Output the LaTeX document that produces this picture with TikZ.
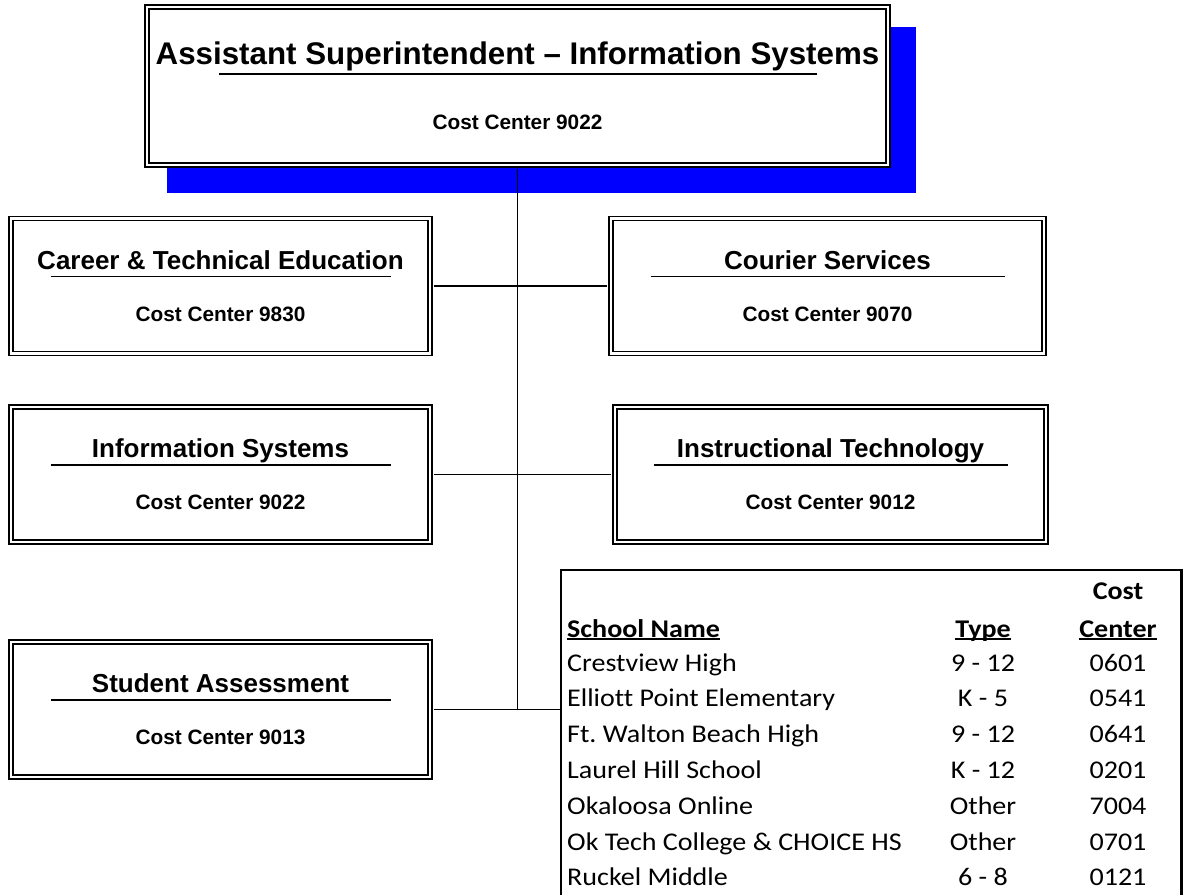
\documentclass[tikz,border=0pt]{standalone}
\usepackage{fontspec}
\setmainfont{Liberation Sans}
\newfontfamily\sheetfont[FakeStretch=1.1, Ligatures=NoCommon]{Carlito}
\usetikzlibrary{positioning}
\frenchspacing

\begin{document}
\begin{tikzpicture}[x=1pt, y=-1pt,
    unitbox/.style={draw, double, double distance=2.6pt, line width=1.6pt, fill=white, inner sep=0pt, minimum height=135pt},
    unithead/.style={font=\fontsize{26}{30}\selectfont\bfseries, inner sep=0pt, anchor=base},
    unitcost/.style={font=\fontsize{20.8}{24}\selectfont\bfseries, inner sep=0pt, anchor=base},
    underrule/.style={line width=1.3pt},
    connector/.style={line width=1.3pt},
    sheetcell/.style={font=\sheetfont\fontsize{25.5}{30}\selectfont, inner sep=0pt, anchor=base},
    sheethead/.style={sheetcell, font=\sheetfont\fontsize{25.5}{30}\selectfont\bfseries}]
  \useasboundingbox (0,0) rectangle (1185,894);

  % top box and its blue shadow
  \fill[blue] (167,27) rectangle (916,193);
  \node[unitbox, minimum width=741pt, minimum height=158pt] (ais) at (517.5,86) {};
  \node[font=\fontsize{31.3}{36}\selectfont\bfseries, inner sep=0pt, anchor=base] (ais-head) at ([yshift=22pt]ais.center) {Assistant Superintendent – Information Systems};
  \draw[underrule] ([xshift=-299pt, yshift=12pt]ais.center) -- ([xshift=299pt, yshift=12pt]ais.center);
  \node[unitcost] (ais-cost) at ([yshift=-43.5pt]ais.center) {Cost Center 9022};

  % departments
  \foreach \n/\px/\py/\w/\half/\unitname/\costno in {
      career/220.5/286/419/170/Career \& Technical Education/9830,
      courier/827.5/286/433/177/Courier Services/9070,
      infosys/220.5/474.5/419/170/Information Systems/9022,
      insttech/830.5/474.5/431/177/Instructional Technology/9012,
      assess/220.5/709.5/419/170/Student Assessment/9013} {
    \node[unitbox, minimum width=\w pt] (\n) at (\px,\py) {};
    \node[unithead] (\n-head) at ([yshift=17pt]\n.center) {\unitname};
    \draw[underrule] ([xshift=-\half pt, yshift=9.5pt]\n.center) -- ([xshift=\half pt, yshift=9.5pt]\n.center);
    \node[unitcost] (\n-cost) at ([yshift=-35pt]\n.center) {Cost Center \costno};
  }

  % school list
  \node[minimum width=620pt, minimum height=340pt, inner sep=0pt, anchor=north west] (schools) at (561,570) {};
  \draw[line width=2.7pt] (schools.south west) |- (schools.north east) -- (schools.south east);

  % lines between the boxes
  \draw[connector, shorten <=2.9pt] (ais.south) -- (ais.south |- assess.east);
  \draw[connector, shorten <=2.9pt, shorten >=2.9pt] (career.east) -- (courier.west);
  \draw[connector, shorten <=2.9pt, shorten >=2.9pt] (infosys.east) -- (insttech.west);
  \draw[connector, shorten <=2.9pt] (assess.east) -- (assess.east -| schools.west);

  \node[sheethead] (cost-head) at (1118,599) {Cost};
  \node[sheethead, anchor=base west] (name-head) at (567,637) {School Name};
  \node[sheethead] (type-head) at (983,637) {Type};
  \node[sheethead] (center-head) at (1118,637) {Center};
  \foreach \h in {name-head, type-head, center-head}
    \draw[line width=1.6pt] ([yshift=-2pt]\h.base west) -- ([yshift=-2pt]\h.base east);

  \foreach \school/\kind/\costno [count=\i] in {
      Crestview High/9 - 12/0601,
      Elliott Point Elementary/K - 5/0541,
      Ft. Walton Beach High/9 - 12/0641,
      Laurel Hill School/K - 12/0201,
      Okaloosa Online/Other/7004,
      Ok Tech College \& CHOICE HS/Other/0701,
      Ruckel Middle/6 - 8/0121} {
    \node[sheetcell, anchor=base west] (school-\i) at (567,{671+35.8*(\i-1)}) {\school};
    \node[sheetcell] (type-\i) at (983,{671+35.8*(\i-1)}) {\kind};
    \node[sheetcell] (cost-\i) at (1118,{671+35.8*(\i-1)}) {\costno};
  }
\end{tikzpicture}
\end{document}
